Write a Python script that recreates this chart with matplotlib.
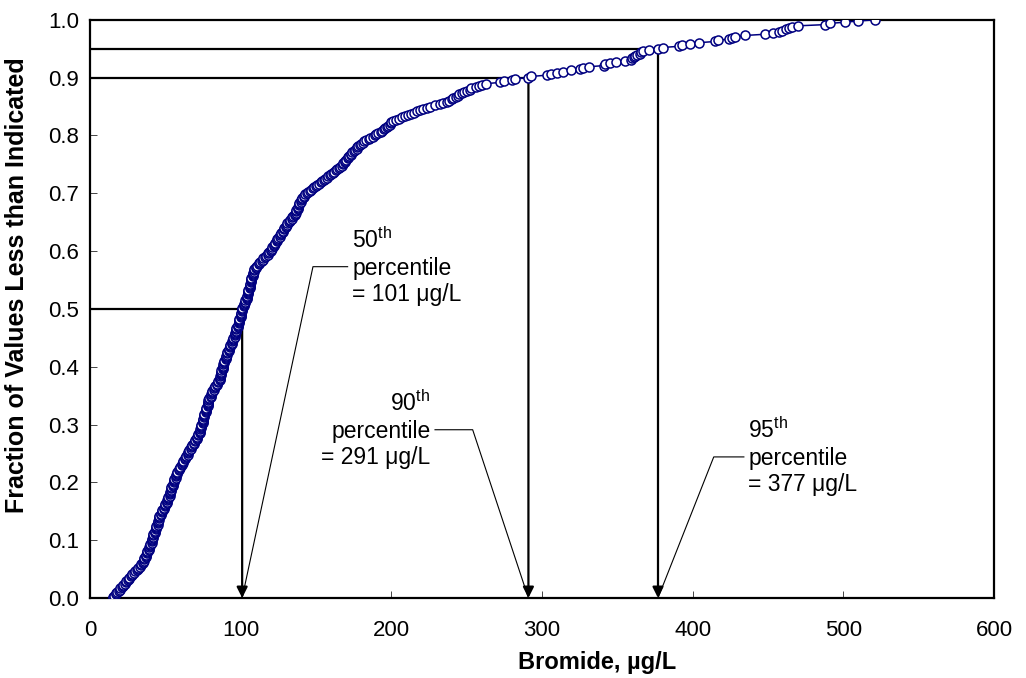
import numpy as np
import matplotlib
matplotlib.use('Agg')
import matplotlib.pyplot as plt

plt.rcParams['font.family'] = ['Liberation Sans', 'DejaVu Sans']
plt.rcParams['mathtext.fontset'] = 'custom'
plt.rcParams['mathtext.rm'] = 'Liberation Sans'

# === BROMIDE SAMPLES (ug/L), sorted ===
bromide_lower = [
    15, 15, 16, 17, 17, 18, 19, 20, 20, 21,
    22, 22, 23, 24, 24, 25, 26, 26, 27, 28, 28,
    29, 30, 31, 32, 32, 33, 34, 34,
    35, 35, 36, 36, 36, 37, 37, 37, 38, 38, 38, 39, 39, 39,
    40, 40, 40, 41, 41, 41, 41, 42, 42, 42, 42,
    43, 43, 43, 44, 44, 44, 44, 45, 45, 45, 45, 46, 46, 46, 46, 47, 47,
    48, 48, 48, 49, 49, 50, 50, 50, 51, 51, 51,
    52, 52, 52, 53, 53, 53, 53, 54, 54, 54, 54,
    55, 55, 55, 56, 56, 56, 56, 57, 57, 57, 58, 58, 58,
    59, 59, 60, 60, 61, 61, 62, 62, 62,
    63, 63, 64, 64, 65, 65, 65, 66, 66, 67, 67,
    68, 68, 69, 69, 70, 70, 71, 71, 71, 72, 72,
    73, 73, 73, 73, 74, 74, 74, 74, 75, 75, 75,
    75, 75, 76, 76, 76, 76, 77, 77, 77, 77, 77, 78, 78, 78, 78, 78, 78,
    79, 79, 80, 80, 80, 81, 81, 81,
    82, 82, 83, 83, 84, 84, 85, 85,
    86, 86, 86, 86, 87, 87, 87, 87, 87, 88, 88, 88, 88, 88,
    89, 89, 89, 90, 90, 90, 90, 91, 91, 91, 92,
    92, 92, 93, 93, 93, 94, 94, 94, 95, 95, 95,
    96, 96, 96, 96, 97, 97, 97, 97, 98, 98, 98,
    99, 99, 99, 99, 99, 100, 100, 100, 100, 100, 101, 101,
]
bromide_upper = [
    101, 101, 102, 102, 102, 103, 103, 103,
    104, 104, 104, 104, 105, 105, 105, 105, 105, 106, 106, 106, 106, 106, 107, 107,
    107, 107, 107, 108, 108, 108, 108,
    109, 109, 109, 110, 110,
    111, 112, 112, 113, 114, 115, 115, 116, 117, 118, 118,
    119, 120, 120, 121, 121, 122, 122, 123, 123, 124, 124, 124,
    125, 126, 126, 127, 127, 128, 128, 129, 129, 130, 130,
    131, 131, 132, 133, 133, 134, 134, 135,
    136, 136, 137, 137, 137, 138, 138, 138, 139, 139, 139, 140, 140,
    141, 141, 142, 142, 143,
    144, 145, 146, 147, 148, 149, 150,
    151, 152, 153, 154, 155, 156, 157, 158,
    159, 160, 161, 162, 163, 164, 165, 166, 167,
    168, 168, 169, 169, 170, 171, 171, 172, 173, 173, 174,
    175, 176, 177, 177, 178, 179, 180, 181,
    182, 183, 185, 186, 188, 189, 190, 191,
    193, 194, 195, 196, 197, 198, 199, 200, 200,
    201, 203, 205, 207, 209, 211, 213,
    215, 217, 219, 221, 224,
    226, 229, 232, 234,
    237, 238, 240, 241, 243, 244, 245,
    247, 248, 250, 252, 253, 256, 258, 260, 263, 272, 275, 280, 282,
]
bromide_tail = [
    291, 293, 303, 306, 310, 314, 319, 325, 327, 331,
    341, 342, 345, 349, 355, 359, 360, 361, 362, 363,
    365, 366, 367, 371, 377, 380, 391, 393, 398, 404,
    415, 417, 424, 426, 428, 435, 448, 453, 457, 459,
    462, 464, 466, 470, 488, 491, 501, 510, 521,
]

# percentile markers
pct_fraction = [0.50, 0.90, 0.95]
pct_value = [101, 291, 377]
pct_ordinal = ['50', '90', '95']

bromide = np.array(bromide_lower + bromide_upper + bromide_tail, dtype=float)
frac = np.arange(len(bromide)) / (len(bromide) - 1)

fig = plt.figure(figsize=(10.26, 6.78), dpi=100)
ax = fig.add_axes([0.0877, 0.118, 0.8811, 0.8528])

ax.plot(bromide, frac, '-', color='navy', linewidth=1.1, marker='o',
        markersize=6.5, markerfacecolor='white', markeredgecolor='navy',
        markeredgewidth=1.1, zorder=3)

# percentile guide lines with arrows down to the x axis
for f, v in zip(pct_fraction, pct_value):
    ax.plot([0, v], [f, f], color='black', linewidth=1.6, zorder=2,
            solid_capstyle='butt')
    ax.annotate('', xy=(v, 0), xytext=(v, f),
                arrowprops=dict(arrowstyle='-|>', color='black', lw=1.6,
                                mutation_scale=16, shrinkA=0, shrinkB=0),
                zorder=2)

# callouts
txt = dict(fontsize=16.5, linespacing=1.2, va='center')
lead = dict(color='black', linewidth=0.8)

# 50th
v = pct_value[0]
ax.plot([v, 148, 171], [0, 0.573, 0.573], **lead)
ax.text(174, 0.573, f'{pct_ordinal[0]}$^{{\\rm th}}$\npercentile\n= {v} \u03bcg/L',
        ha='left', **txt)

# 90th
v = pct_value[1]
ax.plot([v, 254, 229], [0, 0.291, 0.291], **lead)
ax.text(226, 0.291, f'{pct_ordinal[1]}$^{{\\rm th}}$\npercentile\n= {v} \u03bcg/L',
        ha='right', multialignment='right', **txt)

# 95th
v = pct_value[2]
ax.plot([v, 414, 434], [0, 0.244, 0.244], **lead)
ax.text(437, 0.244, f'{pct_ordinal[2]}$^{{\\rm th}}$\npercentile\n= {v} \u03bcg/L',
        ha='left', **txt)

ax.set_xlim(0, 600)
ax.set_ylim(0, 1.0)
ax.set_xticks(np.arange(0, 601, 100))
ax.set_yticks(np.arange(0, 1.01, 0.1))
ax.set_yticklabels([f'{t:.1f}' for t in np.arange(0, 1.01, 0.1)])
ax.tick_params(direction='in', length=5, width=0.7, color='#444444',
               labelsize=16)
ax.tick_params(axis='x', pad=16)
ax.tick_params(axis='y', pad=8)
for s in ax.spines.values():
    s.set_linewidth(1.6)

ax.set_xlabel('Bromide, \u00b5g/L', fontsize=17, fontweight='bold')
ax.xaxis.set_label_coords(0.561, -0.092)
ax.set_ylabel('Fraction of Values Less than Indicated', fontsize=18,
              fontweight='bold')
ax.yaxis.set_label_coords(-0.068, 0.541)

plt.savefig('out.png', dpi=100)
